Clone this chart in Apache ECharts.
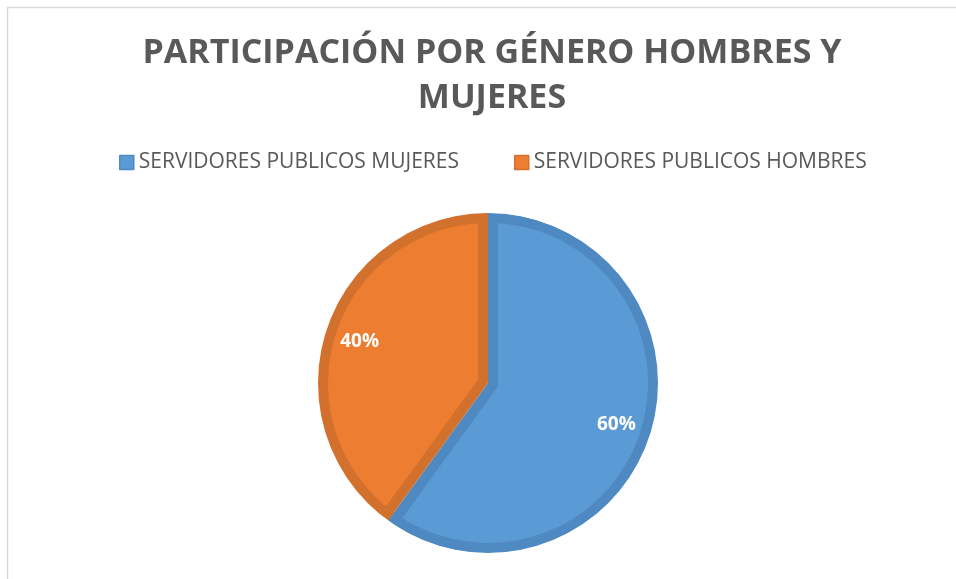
<!DOCTYPE html>
<html>
<head>
<meta charset="utf-8">
<script src="https://cdn.jsdelivr.net/npm/echarts@6/dist/echarts.min.js"></script>
<style>
  html, body { margin: 0; padding: 0; background: #fff; }
  #chart { width: 956px; height: 579px; }
</style>
</head>
<body>
<div id="chart"></div>
<script>
// Participación por género
const categories = ['SERVIDORES PUBLICOS MUJERES', 'SERVIDORES PUBLICOS HOMBRES'];
const values = [60, 40];
const fillColors = ['#5B9BD5', '#ED7D31'];
const edgeColors = ['#4F89C2', '#D2702E'];

const titleText = 'PARTICIPACIÓN POR GÉNERO HOMBRES Y\nMUJERES';

const CX = 488, CY = 383;   // pie centre
const R = 170;              // outer radius
const EDGE = 10;            // width of the darker inner edge

const chart = echarts.init(document.getElementById('chart'), null, { renderer: 'canvas' });

const total = values.reduce((a, b) => a + b, 0);
const clear = 'rgba(0,0,0,0)';

// Each slice's lighter face is the same wedge moved inward along its bisector,
// so that its straight sides sit EDGE px inside the slice's sides.
function faceSeries(k) {
  let start = 0;
  for (let i = 0; i < k; i++) start += values[i] / total * 360;
  const sweep = values[k] / total * 360;
  const mid = (start + sweep / 2) * Math.PI / 180;       // clockwise from 12 o'clock
  const shift = EDGE / Math.sin((sweep / 2) * Math.PI / 180);
  const cx = CX + Math.sin(mid) * shift;
  const cy = CY - Math.cos(mid) * shift;
  return {
    type: 'pie',
    center: [cx, cy],
    radius: [0, R - 2],
    startAngle: 90,
    clockwise: true,
    silent: true,
    legendHoverLink: false,
    label: { show: false },
    labelLine: { show: false },
    emphasis: { disabled: true },
    data: categories.map((name, i) => ({
      name,
      value: values[i],
      itemStyle: { color: i === k ? fillColors[i] : clear, borderWidth: 0 }
    }))
  };
}

const darkData = categories.map((name, i) => ({
  name,
  value: values[i],
  itemStyle: { color: edgeColors[i], borderWidth: 0 }
}));

chart.setOption({
  animation: false,
  title: {
    text: titleText,
    left: 487,
    textAlign: 'center',
    top: 26,
    textStyle: {
      fontFamily: 'Open Sans',
      fontWeight: 'bold',
      fontSize: 34,
      lineHeight: 45,
      color: '#595959'
    }
  },
  legend: {
    top: 147,
    left: 114,
    itemWidth: 14,
    itemHeight: 14,
    itemGap: 55,
    icon: 'rect',
    textStyle: { fontFamily: 'Open Sans', fontSize: 21, color: '#595959' },
    data: categories.map((name, i) => ({
      name,
      itemStyle: { color: fillColors[i], borderColor: edgeColors[i], borderWidth: 1.5 }
    }))
  },
  graphic: [
    { type: 'line', shape: { x1: 7.5, y1: 7, x2: 7.5, y2: 579 }, style: { stroke: '#D9D9D9', lineWidth: 1.5 }, silent: true },
    { type: 'line', shape: { x1: 7, y1: 7.5, x2: 956, y2: 7.5 }, style: { stroke: '#D9D9D9', lineWidth: 1.5 }, silent: true }
  ],
  series: [
    {
      // darker base slices
      type: 'pie',
      center: [CX, CY],
      radius: [0, R],
      startAngle: 90,
      clockwise: true,
      label: { show: false },
      labelLine: { show: false },
      emphasis: { disabled: true },
      data: darkData
    },
    faceSeries(0),
    faceSeries(1),
    {
      // darker outer rim
      type: 'pie',
      center: [CX, CY],
      radius: [R - EDGE, R],
      startAngle: 90,
      clockwise: true,
      silent: true,
      legendHoverLink: false,
      label: { show: false },
      labelLine: { show: false },
      emphasis: { disabled: true },
      data: darkData.map(d => ({ ...d }))
    },
    {
      // white trim outside the pie
      type: 'pie',
      center: [CX, CY],
      radius: [R, R + 20],
      silent: true,
      legendHoverLink: false,
      label: { show: false },
      labelLine: { show: false },
      itemStyle: { color: '#ffffff', borderWidth: 0 },
      emphasis: { disabled: true },
      data: [{ name: '_trim', value: 1 }]
    },
    {
      // percentage labels
      type: 'pie',
      center: [CX, CY],
      radius: [0, 264],
      startAngle: 90,
      clockwise: true,
      silent: true,
      legendHoverLink: false,
      itemStyle: { color: clear, borderWidth: 0 },
      label: {
        show: true,
        position: 'inside',
        formatter: '{d}%',
        fontFamily: 'Open Sans',
        fontWeight: 'bold',
        fontSize: 19,
        color: '#ffffff'
      },
      labelLine: { show: false },
      emphasis: { disabled: true },
      data: categories.map((name, i) => ({ name, value: values[i] }))
    }
  ]
});
</script>
</body>
</html>
